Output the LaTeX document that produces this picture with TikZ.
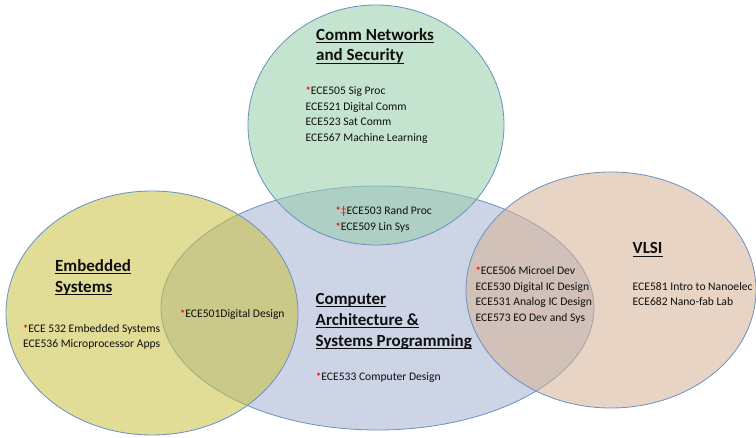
\documentclass[tikz,border=0pt]{standalone}
\usepackage{fontspec}
\setmainfont{Carlito}
\usepackage{xcolor}
\definecolor{cgreen}{RGB}{150,206,170}
\definecolor{cyellow}{RGB}{202,193,64}
\definecolor{cblue}{RGB}{164,177,209}
\definecolor{corange}{RGB}{213,178,148}
\definecolor{cedge}{RGB}{105,145,195}
\definecolor{ctext}{RGB}{15,15,15}
\newcommand{\rs}{\raisebox{0.3pt}{\textcolor{red}{\fontsize{10.5}{10}\selectfont\bfseries *}}}
\newcommand{\rdd}{\textcolor{red}{‡}}
\newcommand{\ttlu}[1]{\setbox0\hbox{#1}\rlap{\rule[-2.8pt]{\wd0}{1.1pt}}\box0}
\begin{document}
\begin{tikzpicture}[x=1pt,y=-1pt,
  blob/.style={draw=cedge,line width=0.8pt,fill opacity=0.55},
  ttl/.style={anchor=base west,inner sep=0pt,text=ctext,font=\fontsize{17}{20}\selectfont\bfseries},
  itm/.style={anchor=base west,inner sep=0pt,text=ctext,font=\fontsize{11.6}{15}\selectfont}]
\useasboundingbox (0,0) rectangle (756,438);
\fill[white] (0,0) rectangle (756,438);
% circles
\path[blob,fill=cblue] (377.5,308) ellipse [x radius=216.5,y radius=122];
\path[blob,fill=cyellow] (152,313) ellipse [x radius=146,y radius=122];
\path[blob,fill=cgreen] (376,125) ellipse [x radius=128,y radius=120];
\path[blob,fill=corange] (611,290) ellipse [x radius=145,y radius=118];
% Comm networks
\node[ttl] (cn1) at (316,40.5) {\ttlu{Comm Networks}};
\node[ttl] (cn2) at (316,61) {\ttlu{and Security}};
\node[itm] (g1) at (305.5,95) {\rs ECE505 Sig Proc};
\node[itm] (g2) at (305.5,110.5) {ECE521 Digital Comm};
\node[itm] (g3) at (305.5,126) {ECE523 Sat Comm};
\node[itm] (g4) at (305.5,141.5) {ECE567 Machine Learning};
% green-blue overlap
\node[itm] (gb1) at (335.5,215) {\rs\rdd ECE503 Rand Proc};
\node[itm] (gb2) at (335.5,231) {\rs ECE509 Lin Sys};
% Embedded
\node[ttl] (es1) at (55,271.5) {\ttlu{Embedded}};
\node[ttl] (es2) at (55,292.5) {\ttlu{Systems}};
\node[itm] (y1) at (23,332.5) {\rs ECE 532 Embedded Systems};
\node[itm] (y2) at (23,348) {ECE536 Microprocessor Apps};
\node[itm] (yb1) at (180,318) {\rs ECE501Digital Design};
% Computer architecture
\node[ttl] (ca1) at (315.5,304.5) {\ttlu{Computer}};
\node[ttl] (ca2) at (315.5,325.5) {\ttlu{Architecture \&}};
\node[ttl] (ca3) at (315.5,346.5) {\ttlu{Systems Programming}};
\node[itm] (b1) at (316,381) {\rs ECE533 Computer Design};
% VLSI
\node[ttl] (vl) at (632.5,254) {\ttlu{VLSI}};
\node[itm] (ob1) at (475.5,275) {\rs ECE506 Microel Dev};
\node[itm] (ob2) at (475.5,290.5) {ECE530 Digital IC Design};
\node[itm] (ob3) at (475.5,306) {ECE531 Analog IC Design};
\node[itm] (ob4) at (475.5,321.5) {ECE573 EO Dev and Sys};
\node[itm] (o1) at (632.5,290.5) {ECE581 Intro to Nanoelec};
\node[itm] (o2) at (632.5,306) {ECE682 Nano-fab Lab};
\end{tikzpicture}
\end{document}
